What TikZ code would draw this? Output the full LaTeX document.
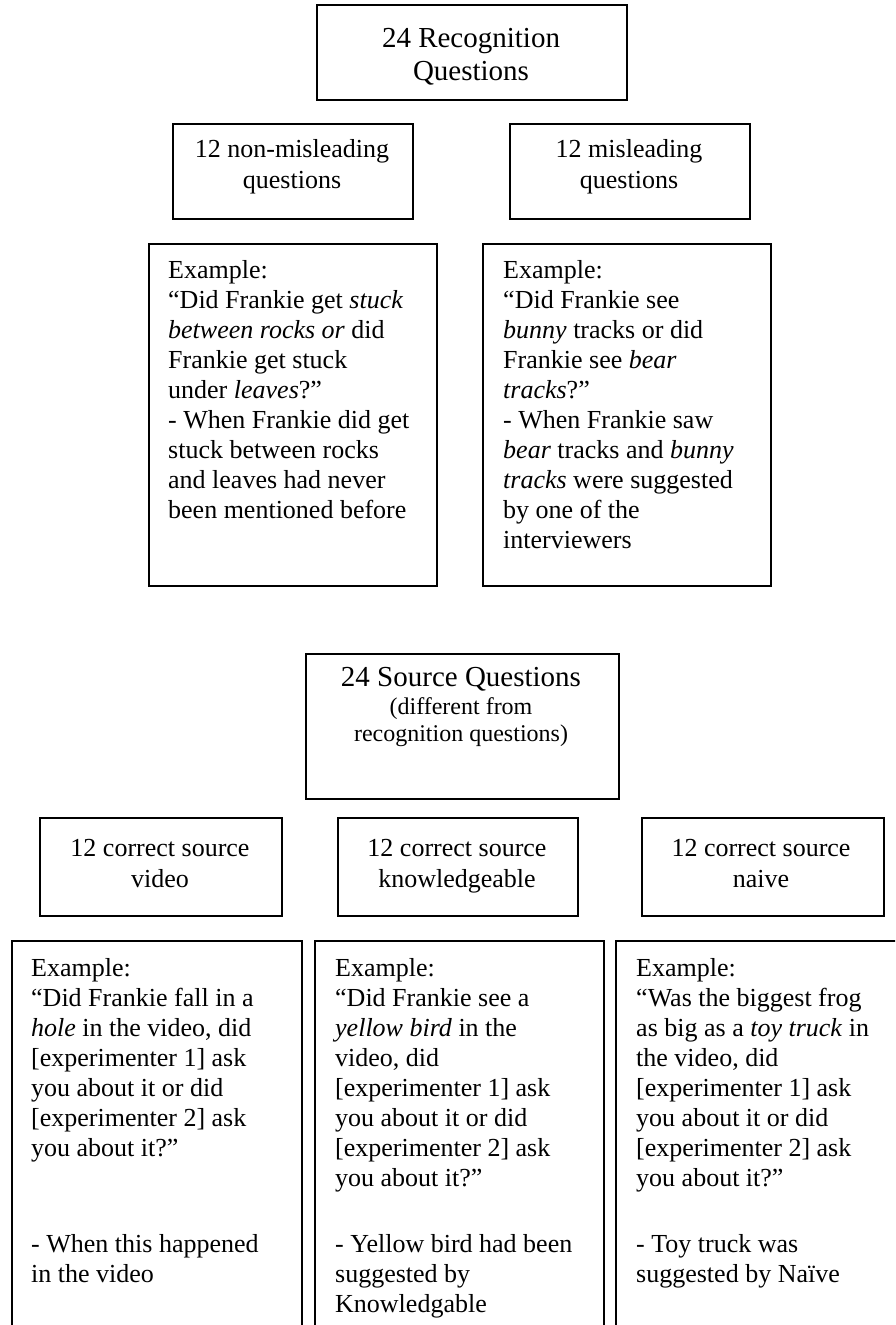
\documentclass[tikz,border=0pt]{standalone}
\usepackage{fontspec}
\setmainfont{Liberation Serif}
\begin{document}
\begin{tikzpicture}[x=1pt,y=-1pt,
  box/.style={draw, line width=2.2pt, inner sep=0pt, anchor=north west},
  txt/.style={inner sep=0pt, anchor=base west, align=left, font=\fontsize{26}{30}\selectfont},
  ctxt/.style={inner sep=0pt, anchor=base, align=center, font=\fontsize{26}{31}\selectfont},
  ttl/.style={inner sep=0pt, anchor=base, align=center, font=\fontsize{29}{33}\selectfont}]
\clip (0,0) rectangle (895,1325);
\fill[white] (0,0) rectangle (895,1325);
% boxes
\node[box, minimum width=310pt, minimum height=95pt]  (rec)    at (316,4) {};
\node[box, minimum width=240pt, minimum height=95pt]  (nonmis) at (172,123) {};
\node[box, minimum width=240pt, minimum height=95pt]  (mis)    at (509,123) {};
\node[box, minimum width=288pt, minimum height=342pt] (exl)    at (148,243) {};
\node[box, minimum width=288pt, minimum height=342pt] (exr)    at (482,243) {};
\node[box, minimum width=313pt, minimum height=145pt] (src)    at (305,653) {};
\node[box, minimum width=242pt, minimum height=98pt]  (sv)     at (39,817) {};
\node[box, minimum width=240pt, minimum height=98pt]  (sk)     at (337,817) {};
\node[box, minimum width=242pt, minimum height=98pt]  (sn)     at (641,817) {};
\node[box, minimum width=290pt, minimum height=420pt] (bv)     at (11,940) {};
\node[box, minimum width=289pt, minimum height=420pt] (bk)     at (314,940) {};
\node[box, minimum width=290pt, minimum height=420pt] (bn)     at (615,940) {};
% texts (base anchor = baseline of the last line)
\node[ttl] (rect) at (471,80) {24 Recognition\\Questions};
\node[ctxt] (nonmist) at (292,188) {12 non-misleading\\questions};
\node[ctxt] (mist) at (629,188) {12 misleading\\questions};
\node[txt] (exlt) at (168,518) {Example:\\“Did Frankie get \textit{stuck}\\\textit{between rocks or} did\\Frankie get stuck\\under \textit{leaves}?”\\- When Frankie did get\\stuck between rocks\\and leaves had never\\been mentioned before};
\node[txt] (exrt) at (503,548) {Example:\\“Did Frankie see\\\textit{bunny} tracks or did\\Frankie see \textit{bear}\\\textit{tracks}?”\\- When Frankie saw\\\textit{bear} tracks and \textit{bunny}\\\textit{tracks} were suggested\\by one of the\\interviewers};
\node[ttl] (srct) at (461,686) {24 Source Questions};
\node[inner sep=0pt, anchor=base, align=center, font=\fontsize{24}{27}\selectfont] (srcs) at (461,741) {(different from\\recognition questions)};
\node[ctxt] (svt) at (160,887) {12 correct source\\video};
\node[ctxt] (skt) at (457,887) {12 correct source\\knowledgeable};
\node[ctxt] (snt) at (761,887) {12 correct source\\naive};
\node[txt] (bvq) at (31,1156) {Example:\\“Did Frankie fall in a\\\textit{hole} in the video, did\\{[}experimenter 1{]} ask\\you about it or did\\{[}experimenter 2{]} ask\\you about it?”};
\node[txt] (bkq) at (335,1186) {Example:\\“Did Frankie see a\\\textit{yellow bird} in the\\video, did\\{[}experimenter 1{]} ask\\you about it or did\\{[}experimenter 2{]} ask\\you about it?”};
\node[txt] (bnq) at (636,1186) {Example:\\“Was the biggest frog\\as big as a \textit{toy truck} in\\the video, did\\{[}experimenter 1{]} ask\\you about it or did\\{[}experimenter 2{]} ask\\you about it?”};
\node[txt] (bvd) at (31,1282) {- When this happened\\in the video};
\node[txt] (bkd) at (335,1312) {- Yellow bird had been\\suggested by\\Knowledgable};
\node[txt] (bnd) at (636,1282) {- Toy truck was\\suggested by Naïve};
\end{tikzpicture}
\end{document}
